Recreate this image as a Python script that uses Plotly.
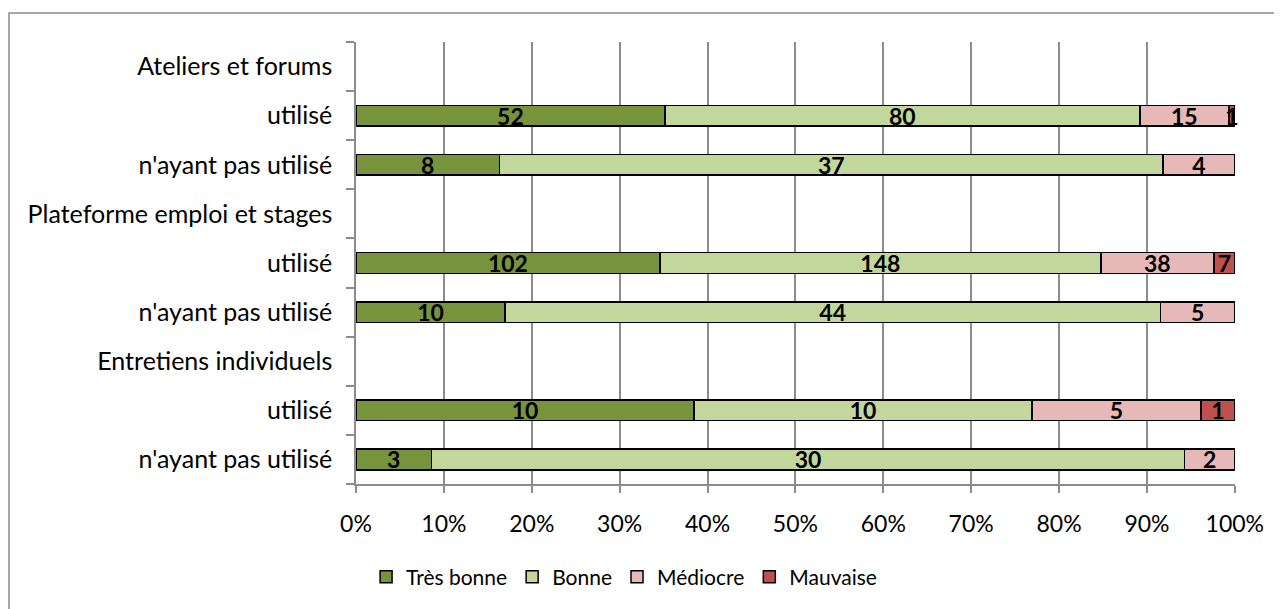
import plotly.graph_objects as go

categories = ["Ateliers et forums", "utilisé", "n'ayant pas utilisé",
              "Plateforme emploi et stages", "utilisé", "n'ayant pas utilisé",
              "Entretiens individuels", "utilisé", "n'ayant pas utilisé"]
series_names = ["Très bonne", "Bonne", "Médiocre", "Mauvaise"]
tres_bonne = [None, 52, 8, None, 102, 10, None, 10, 3]
bonne = [None, 80, 37, None, 148, 44, None, 10, 30]
mediocre = [None, 15, 4, None, 38, 5, None, 5, 2]
mauvaise = [None, 1, 0, None, 7, 0, None, 1, 0]
colors = ["#77933C", "#C3D69B", "#E6B9B8", "#C0504D"]
x_ticks = list(range(0, 101, 10))
x_ticklabels = [f"{v}%" for v in x_ticks]

FONT = "Lato"
# page has an 8px body margin; figure coordinates are page - 8
W, H = 1274, 601
L, R, T, B = 348, 1227, 34, 477
GRID = "#8C8C8C"

ypos = list(range(len(categories)))
fig = go.Figure()
for name, vals, col in zip(series_names, [tres_bonne, bonne, mediocre, mauvaise], colors):
    xs = [v if v else None for v in vals]
    txt = [str(v) if v else "" for v in vals]
    fig.add_trace(go.Bar(
        y=ypos, x=xs, name=name, orientation="h",
        marker=dict(color=col, line=dict(color="black", width=1.5)),
        text=txt, textposition="inside", insidetextanchor="middle",
        textangle=0, constraintext="none", cliponaxis=False,
        textfont=dict(family=FONT, size=23, color="black", weight="bold"),
        hoverinfo="skip",
    ))

fig.update_layout(
    barmode="stack", barnorm="percent", bargap=0.58,
    width=W, height=H,
    margin=dict(l=L, r=W - R, t=T, b=H - B),
    paper_bgcolor="white", plot_bgcolor="white",
    font=dict(family=FONT, size=25, color="black"),
    showlegend=True,
    legend=dict(orientation="h", x=0.305, xanchor="center", y=-0.208, yanchor="middle",
                font=dict(family=FONT, size=21), traceorder="normal",
                itemwidth=30),
    shapes=[dict(type="rect", xref="paper", yref="paper",
                 x0=(1 - L) / (R - L), x1=(1300 - L) / (R - L),
                 y0=(B - 640) / (B - T), y1=1 + (T - 5) / (B - T),
                 line=dict(color=GRID, width=1.5), layer="below")],
)
fig.update_xaxes(
    range=[0, 100.02], tickvals=x_ticks, ticktext=x_ticklabels,
    showgrid=True, gridcolor=GRID, gridwidth=1.5,
    showline=True, linecolor=GRID, linewidth=1.5,
    ticks="outside", ticklen=7, tickcolor=GRID, tickwidth=1.5,
    zeroline=False, tickfont=dict(size=23), ticklabelstandoff=12,
)
fig.update_yaxes(
    range=[len(categories) - 0.5, -0.5],
    tickvals=ypos, ticktext=categories, ticks="",
    showline=True, linecolor=GRID, linewidth=1.5,
    showgrid=False, zeroline=False, ticklabelstandoff=17,
    minor=dict(tickvals=[i - 0.5 for i in range(len(categories) + 1)],
               ticks="outside", ticklen=8, tickcolor=GRID, tickwidth=1.5,
               showgrid=False),
    tickfont=dict(size=25),
)
fig.write_html("out.html")
